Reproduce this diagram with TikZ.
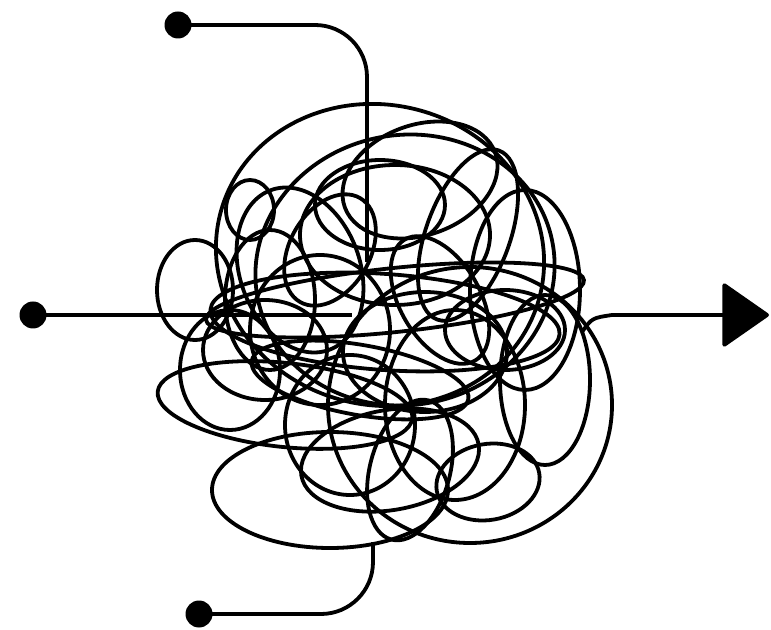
\documentclass[tikz,border=0pt]{standalone}
\usetikzlibrary{arrows.meta}

\tikzset{
  tangle/.style={line width=1.9pt,black},
  pindot/.style={circle,fill=black,inner sep=0pt,minimum size=13.5pt},
}

\begin{document}
\begin{tikzpicture}[x=0.5pt,y=-0.5pt]
  \useasboundingbox (0,0) rectangle (771,630);

  % The knot of loops
  \foreach \cx/\cy/\rx/\ry/\ang in {
      380/255/165/150/-15, 405/270/150/135/10, 250/210/24/30/0,
      395/235/95/70/0, 468/235/42/90/-20, 525/290/55/100/0,
      195/290/38/50/0, 285/405/128/42/-6, 330/490/118/58/0,
      470/405/142/138/0, 488/482/52/38/10, 385/322/175/48/-4,
      395/300/190/32/6, 320/330/70/75/0, 300/270/60/85/20,
      425/352/82/60/0, 455/405/70/95/0, 350/425/65/70/0,
      545/380/45/85/0, 265/350/62/50/0, 380/205/65/45/0,
      330/250/40/60/-30, 440/300/40/70/30, 505/330/60/40/0,
      270/300/45/70/0, 390/460/90/50/10, 360/380/110/35/-10,
      420/180/80/55/20, 230/370/50/60/0, 410/470/40/72/-15}
    \draw[tangle,rotate around={\ang:(\cx,\cy)}] (\cx,\cy) ellipse ({\rx} and {\ry});

  % Inputs
  \node[pindot] (inTop) at (178,25) {};
  \node[pindot] (inLeft) at (33,315) {};
  \node[pindot] (inBottom) at (199,614) {};
  \coordinate (topEnd) at (367,262);
  \coordinate (leftEnd) at (352,315);
  \coordinate (bottomEnd) at (373,542);

  \draw[tangle,rounded corners=26] (inTop.center) -| (topEnd);
  \draw[tangle] (inLeft.center) -- (leftEnd);
  \draw[tangle,rounded corners=26] (inBottom.center) -| (bottomEnd);

  % Output
  \coordinate (outStart) at (582,332);
  \coordinate (outBend) at (612,315);
  \coordinate (outTip) at (769,315);
  \draw[tangle,-{Triangle[length=24pt,width=33pt,round]}]
    (outStart) .. controls (592,318) .. (outBend) -- (outTip);
\end{tikzpicture}
\end{document}
